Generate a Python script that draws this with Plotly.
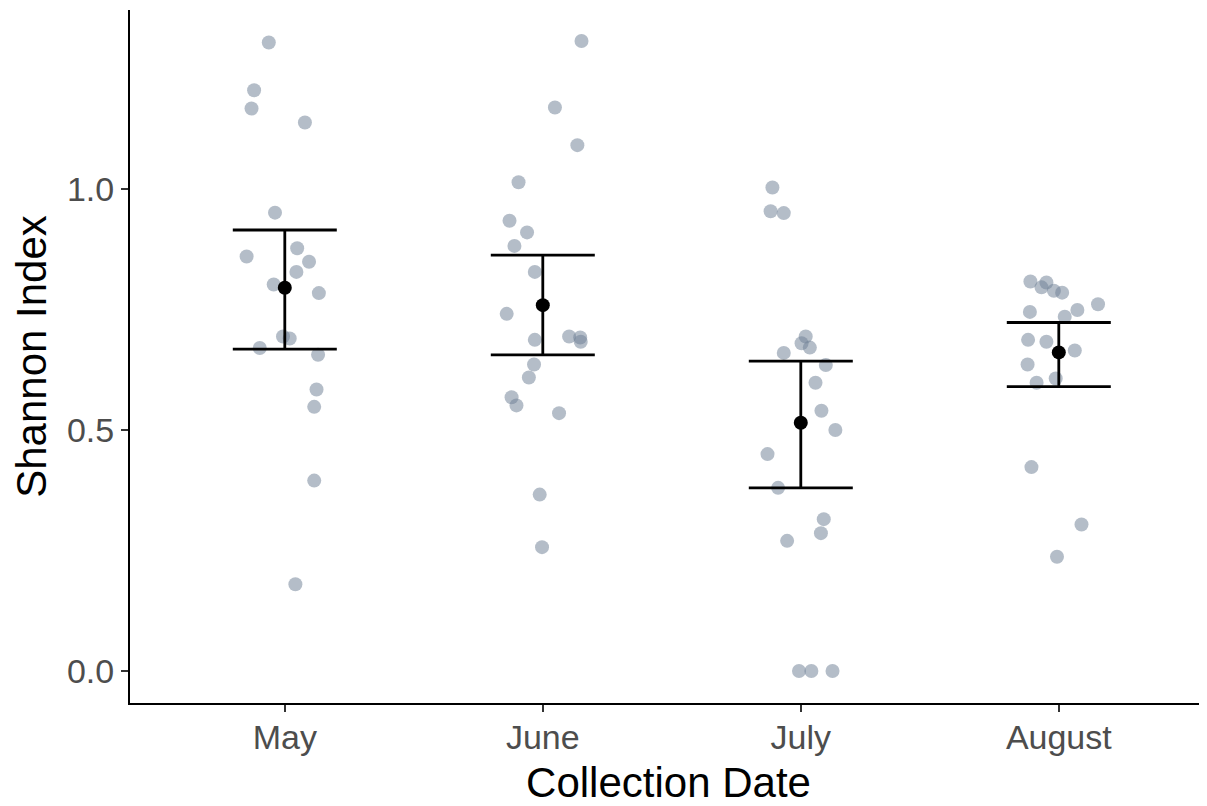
import plotly.graph_objects as go

categories = ["May", "June", "July", "August"]

may_vals = [1.304, 1.205, 1.167, 1.138, 0.951, 0.877, 0.860, 0.849, 0.828, 0.802,
            0.784, 0.694, 0.690, 0.670, 0.656, 0.584, 0.548, 0.395, 0.180]
may_jit = [-0.062, -0.119, -0.129, 0.078, -0.038, 0.048, -0.148, 0.094, 0.045, -0.043,
           0.132, -0.007, 0.019, -0.097, 0.129, 0.123, 0.114, 0.114, 0.041]

june_vals = [1.307, 1.169, 1.091, 1.014, 0.934, 0.910, 0.882, 0.828, 0.741, 0.687,
             0.694, 0.692, 0.683, 0.636, 0.609, 0.568, 0.551, 0.535, 0.366, 0.257]
june_jit = [0.150, 0.047, 0.134, -0.094, -0.129, -0.061, -0.110, -0.031, -0.140, -0.031,
            0.102, 0.145, 0.147, -0.034, -0.054, -0.121, -0.102, 0.063, -0.012, -0.003]

july_vals = [1.003, 0.954, 0.950, 0.694, 0.680, 0.671, 0.660, 0.635, 0.598, 0.540,
             0.500, 0.450, 0.380, 0.315, 0.286, 0.270, 0.0, 0.0, 0.0]
july_jit = [-0.110, -0.117, -0.066, 0.019, 0.003, 0.035, -0.066, 0.097, 0.057, 0.080,
            0.134, -0.129, -0.088, 0.089, 0.078, -0.053, -0.007, 0.041, 0.123]

aug_vals = [0.808, 0.806, 0.796, 0.789, 0.785, 0.761, 0.745, 0.749, 0.735, 0.687,
            0.683, 0.665, 0.636, 0.607, 0.598, 0.423, 0.304, 0.237]
aug_jit = [-0.110, -0.048, -0.067, -0.019, 0.013, 0.152, -0.112, 0.072, 0.023, -0.119,
           -0.048, 0.062, -0.121, -0.012, -0.086, -0.106, 0.088, -0.007]

means = [0.795, 0.759, 0.515, 0.661]
upper = [0.915, 0.863, 0.643, 0.723]
lower = [0.668, 0.656, 0.380, 0.590]

yticks = [0.0, 0.5, 1.0]
ytick_text = ["0.0", "0.5", "1.0"]

groups = [(may_vals, may_jit), (june_vals, june_jit), (july_vals, july_jit), (aug_vals, aug_jit)]

fig = go.Figure()

for i, (vals, jit) in enumerate(groups):
    fig.add_trace(go.Scatter(
        x=[i + j for j in jit], y=vals, mode="markers",
        marker=dict(size=14, color="rgba(112,128,150,0.52)", line=dict(width=0)),
        showlegend=False, hoverinfo="y",
    ))

fig.add_trace(go.Scatter(
    x=list(range(len(categories))), y=means, mode="markers",
    marker=dict(size=14, color="black"),
    error_y=dict(type="data", symmetric=False,
                 array=[u - m for u, m in zip(upper, means)],
                 arrayminus=[m - l for m, l in zip(means, lower)],
                 color="black", thickness=2.8, width=52),
    showlegend=False,
))

# page body has an 8px margin; compensate so the plot area lands where the reference has it
fig.update_layout(
    width=1199, height=798,
    margin=dict(l=122, r=0, t=2, b=103),
    plot_bgcolor="white", paper_bgcolor="white",
    font=dict(family="Liberation Sans, Arial, sans-serif"),
)

fig.update_xaxes(
    range=[-0.6, -0.6 + 1077 / 258], tickmode="array",
    tickvals=list(range(len(categories))), ticktext=categories,
    showgrid=False, zeroline=False, showline=True, linecolor="black", linewidth=2,
    ticks="outside", ticklen=7, tickwidth=1.5, tickcolor="#333333",
    tickfont=dict(size=34, color="#4D4D4D"), ticklabelstandoff=-4,
    title=dict(text="Collection Date", font=dict(size=42, color="black"), standoff=13),
    automargin=False,
)
fig.update_yaxes(
    range=[-0.0664, 1.3714], tickmode="array", tickvals=yticks, ticktext=ytick_text,
    showgrid=False, zeroline=False, showline=True, linecolor="black", linewidth=2,
    ticks="outside", ticklen=7, tickwidth=1.5, tickcolor="#333333",
    tickfont=dict(size=34, color="#4D4D4D"),
    title=dict(text="Shannon Index", font=dict(size=42, color="black"), standoff=14),
    automargin=False,
)

fig.write_html("out.html")
